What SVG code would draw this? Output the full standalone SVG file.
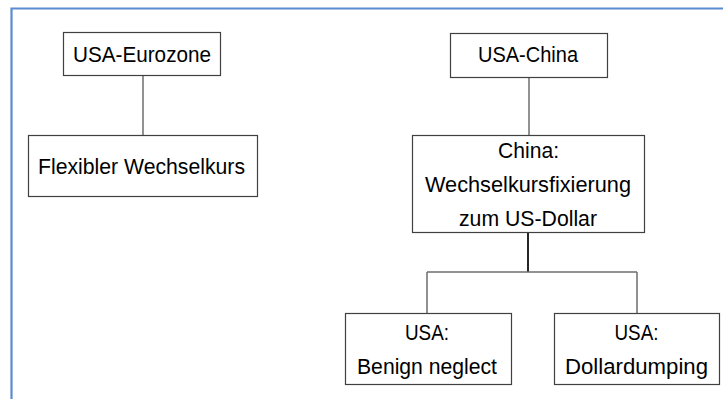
<svg xmlns="http://www.w3.org/2000/svg" width="723" height="399" viewBox="0 0 723 399">
<style>
.box{fill:#fff;stroke:#404040;stroke-width:1.2}
.t{font-family:"Liberation Sans",Arial,sans-serif;font-size:22px;fill:#000;text-anchor:middle}
.c{fill:none;stroke:#6e6e6e;stroke-width:1.5}
.c2{fill:none;stroke:#262626;stroke-width:2}
</style>
<rect x="0" y="0" width="723" height="399" fill="#fff"/>
<path d="M11.5,399 V8.5 H723" fill="none" stroke="#5b8bd0" stroke-width="2.2"/>
<g id="connectors">
<path class="c" d="M143,75 V135"/>
<path class="c" d="M529,77 V135"/>
<path class="c2" d="M528,232 V272"/>
<path class="c" d="M427,272 H637 M427,272 V313 M637,272 V313"/>
</g>
<g id="usa-eurozone">
<rect class="box" x="63.5" y="32.5" width="157" height="43"/>
<text class="t" x="142" y="62" textLength="138" lengthAdjust="spacingAndGlyphs">USA-Eurozone</text>
</g>
<g id="flexibler">
<rect class="box" x="28.5" y="135.5" width="229" height="61"/>
<text class="t" x="141.5" y="174" textLength="207" lengthAdjust="spacingAndGlyphs">Flexibler Wechselkurs</text>
</g>
<g id="usa-china">
<rect class="box" x="450.5" y="33.5" width="157" height="44"/>
<text class="t" x="528" y="62" textLength="100" lengthAdjust="spacingAndGlyphs">USA-China</text>
</g>
<g id="china">
<rect class="box" x="412.5" y="135.5" width="232" height="97"/>
<text class="t" x="528.5" y="158" textLength="61" lengthAdjust="spacingAndGlyphs">China:</text>
<text class="t" x="528" y="192" textLength="206" lengthAdjust="spacingAndGlyphs">Wechselkursfixierung</text>
<text class="t" x="528" y="226" textLength="138" lengthAdjust="spacingAndGlyphs">zum US-Dollar</text>
</g>
<g id="benign">
<rect class="box" x="345.5" y="313.5" width="166" height="71"/>
<text class="t" x="427" y="340" textLength="44" lengthAdjust="spacingAndGlyphs">USA:</text>
<text class="t" x="427" y="374" textLength="140" lengthAdjust="spacingAndGlyphs">Benign neglect</text>
</g>
<g id="dollardumping">
<rect class="box" x="554.5" y="313.5" width="165" height="71"/>
<text class="t" x="636.5" y="340" textLength="44" lengthAdjust="spacingAndGlyphs">USA:</text>
<text class="t" x="636.5" y="374" textLength="143" lengthAdjust="spacingAndGlyphs">Dollardumping</text>
</g>
</svg>
